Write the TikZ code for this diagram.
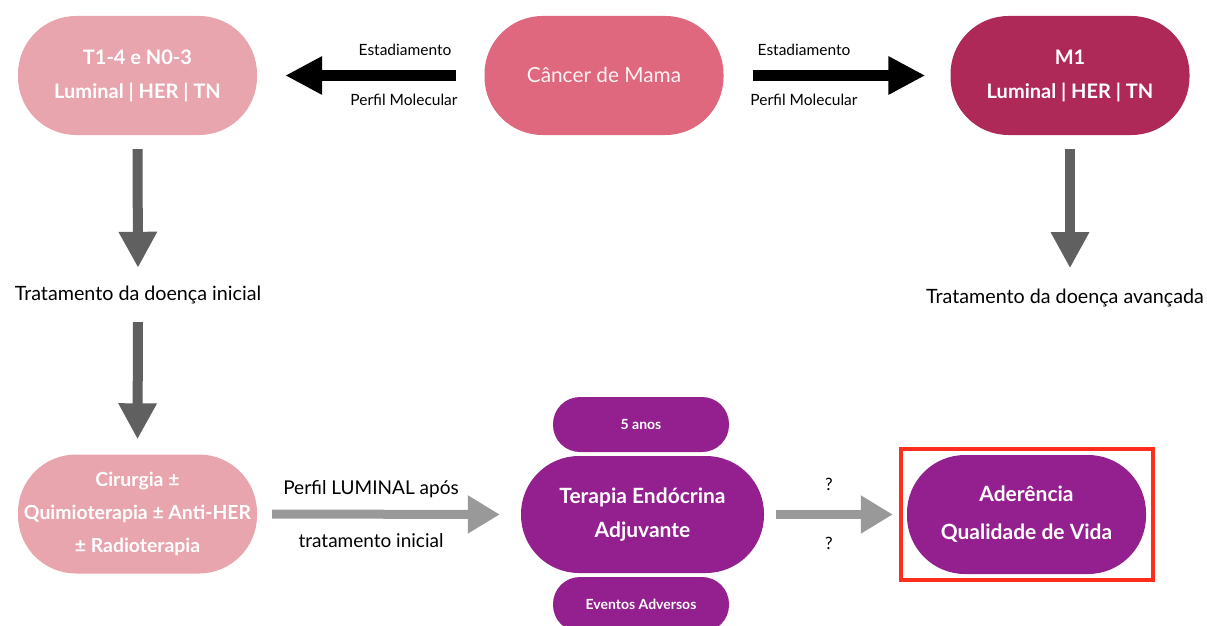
\documentclass[tikz,border=0pt]{standalone}
\usepackage{fontspec}
\setmainfont{Lato}
\usetikzlibrary{arrows.meta,calc}
\definecolor{pinkL}{HTML}{E8A5AE}
\definecolor{pinkM}{HTML}{E0687E}
\definecolor{wine}{HTML}{AE2858}
\definecolor{purp}{HTML}{941F8F}
\definecolor{darkg}{HTML}{606060}
\definecolor{lightg}{HTML}{999999}
\definecolor{redbox}{HTML}{FF2D1C}
\begin{document}
\begin{tikzpicture}[x=1pt,y=-1pt,
  pill/.style={rectangle, rounded corners=58pt, inner sep=0pt, align=center, text=white,
    minimum width=239pt, minimum height=119pt},
  smallpill/.style={rectangle, rounded corners=27pt, inner sep=0pt, align=center, text=white,
    minimum width=176pt, minimum height=55pt, fill=purp, font=\fontsize{14}{16}\selectfont\bfseries},
  nodetext/.style={font=\fontsize{20}{34}\selectfont\bfseries},
  purptext/.style={font=\fontsize{21}{34}\selectfont\bfseries},
  lbl/.style={inner sep=0pt, font=\fontsize{15.5}{18}\selectfont},
  biglbl/.style={inner sep=0pt, font=\fontsize{19.7}{22}\selectfont},
  blackarrow/.style={line width=10pt, black, -{Triangle[length=37pt,width=36pt]}},
  darkarrow/.style={line width=10pt, darkg, -{Triangle[length=36pt,width=36pt]}},
  grayarrow/.style={line width=9pt, lightg, -{Triangle[length=32pt,width=36pt]}}]
\useasboundingbox (0,0) rectangle (1207,626);
\clip (0,0) rectangle (1207,626);

% top row
\node[pill, fill=pinkL, nodetext] (tl) at (137.5,75.5) {T1-4 e N0-3\\Luminal | HER | TN};
\node[pill, fill=pinkM, font=\fontsize{20.8}{24}\selectfont, text=white!92!pinkM] (mid) at (604,75.5) {\raisebox{2pt}{Câncer de Mama}};
\node[pill, fill=wine, nodetext] (tr) at (1070,75.5) {M1\\Luminal | HER | TN};

\draw[blackarrow] ($(mid.west)+(-28,0)$) -- ($(tl.east)+(28,0)$);
\draw[blackarrow] ($(mid.east)+(29,0)$) -- ($(tr.west)+(-25,0)$);
\node[lbl] (e1) at (405,50) {Estadiamento};
\node[lbl] (p1) at (404,100) {Perfil Molecular};
\node[lbl] (e2) at (804,50) {Estadiamento};
\node[lbl] (p2) at (804,100) {Perfil Molecular};

% left column
\node[biglbl] (ti) at (138,295) {Tratamento da doença inicial};
\node[biglbl] (ta) at (1065,298) {Tratamento da doença avançada};
\node[pill, fill=pinkL, font=\fontsize{19.4}{33}\selectfont\bfseries] (bl) at (137.5,514) {Cirurgia ±\\Quimioterapia ± Anti-HER\\± Radioterapia};

\draw[darkarrow] ($(tl.south)+(0,14)$) -- ($(ti.north)+(0,-18)$);
\draw[darkarrow] ($(ti.south)+(0,18)$) -- ($(bl.north)+(0,-15)$);
\draw[darkarrow] ($(tr.south)+(0,14)$) -- ($(tr.south)+(0,133)$);

% bottom middle
\node[pill, fill=purp, purptext, minimum width=243pt, minimum height=117pt] (te) at (642.5,514.5) {Terapia Endócrina\\Adjuvante};
\node[smallpill] (anos) at (641,424.5) {5 anos};
\node[smallpill] (ev) at (641,604.5) {Eventos Adversos};

\draw[grayarrow] ($(bl.east)+(15,0)$) -- ($(te.west)+(-21,0)$);
\node[biglbl, font=\fontsize{19}{22}\selectfont] (pl1) at (371,489) {Perfil LUMINAL após};
\node[biglbl, font=\fontsize{19}{22}\selectfont] (pl2) at (371,541) {tratamento inicial};

% right
\node[pill, fill=purp, font=\fontsize{21}{38}\selectfont\bfseries] (aq) at (1026.5,514.5) {Aderência\\Qualidade de Vida};
\node[draw=redbox, line width=4pt, minimum width=252pt, minimum height=131pt, inner sep=0pt] (box) at (1027,514.5) {};
\draw[grayarrow] ($(te.east)+(12,0)$) -- ($(aq.west)+(-14,0)$);
\node[lbl, font=\fontsize{17}{20}\selectfont] (q1) at (829,484) {?};
\node[lbl, font=\fontsize{17}{20}\selectfont] (q2) at (829,543) {?};
\end{tikzpicture}
\end{document}
